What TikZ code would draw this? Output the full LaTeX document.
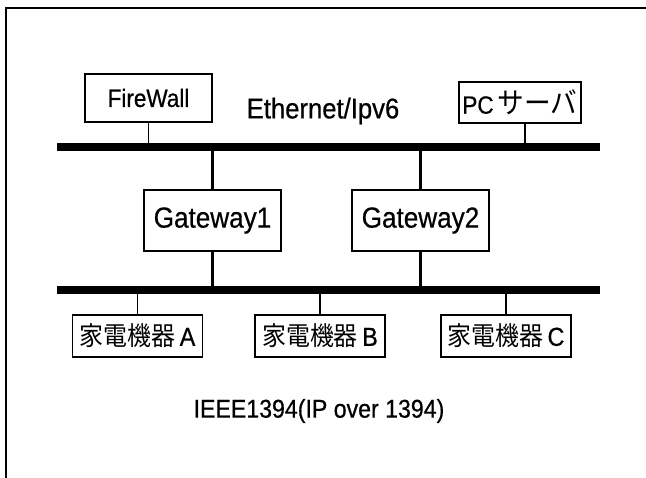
\documentclass[tikz,border=0pt]{standalone}
\usepackage{fontspec}
\setmainfont{Liberation Sans}[FakeStretch=0.9, FakeBold=0.6]
\newfontfamily\jpfont{Noto Sans CJK JP}[FakeStretch=0.92]
\usepackage{tikz}
\usetikzlibrary{positioning,calc}
\tikzset{
  box/.style     = {draw=black, line width=1.6pt, fill=white, inner sep=0pt,
                    align=center, font=\fontsize{25}{28}\selectfont},
  gwbox/.style   = {box, minimum width=137pt, minimum height=61pt,
                    font=\fontsize{29}{32}\selectfont},
  devbox/.style  = {box, minimum width=130pt, minimum height=42pt,
                    font=\fontsize{26}{28}\selectfont},
  bus/.style     = {fill=black, inner sep=0pt, minimum width=543pt, minimum height=8pt},
  link/.style    = {draw=black, line width=1.3pt},
  gwlink/.style  = {draw=black, line width=2.6pt},
  lbl/.style     = {inner sep=0pt, align=center},
}
\begin{document}
\begin{tikzpicture}[x=1pt, y=-1pt]
\useasboundingbox (0,0) rectangle (646,478);

% ---- outer frame ----
\draw[line width=2.2pt] (646,8) -- (6,8) -- (6,478);

% ---- ethernet side ----
\node[box, minimum width=127pt, minimum height=48pt] (fw) at (148.5,98) {FireWall};
\node[box, minimum width=122pt, minimum height=41pt] (pc) at (520,102.5)
  {PC\,{\jpfont\fontsize{29}{30}\selectfont サーバ}};
\node[bus] (ether) at (328.5,147) {};
\node[lbl, font=\fontsize{28.5}{30}\selectfont] (etherlbl) at (323,111) {Ethernet/Ipv6};

\draw[link] (fw.south) -- (fw.south |- ether.north);
\draw[link] ([xshift=5pt]pc.south) -- ([xshift=5pt]pc.south |- ether.north);

% ---- gateways ----
\node[gwbox] (gw1) at (212.5,220.5) {Gateway1};
\node[gwbox] (gw2) at (420.5,220.5) {Gateway2};
\node[bus] (ieee) at (328.5,290) {};

\draw[gwlink] (gw1.north |- ether.south) -- (gw1.north);
\draw[gwlink] (gw2.north |- ether.south) -- (gw2.north);
\draw[gwlink] (gw1.south) -- (gw1.south |- ieee.north);
\draw[gwlink] (gw2.south) -- (gw2.south |- ieee.north);

% ---- 1394 side ----
\node[devbox] (devA) at (137.5,336) {{\jpfont 家電機器}\,A};
\node[devbox] (devB) at (320,336) {{\jpfont 家電機器}\,B};
\node[devbox] (devC) at (506,336) {{\jpfont 家電機器}\,C};

\foreach \d in {devA,devB,devC}
  \draw[link] (\d.north |- ieee.south) -- (\d.north);

\node[lbl, font=\fontsize{25.7}{28}\selectfont] (ieeelbl) at (319,411) {IEEE1394(IP over 1394)};

\end{tikzpicture}
\end{document}
